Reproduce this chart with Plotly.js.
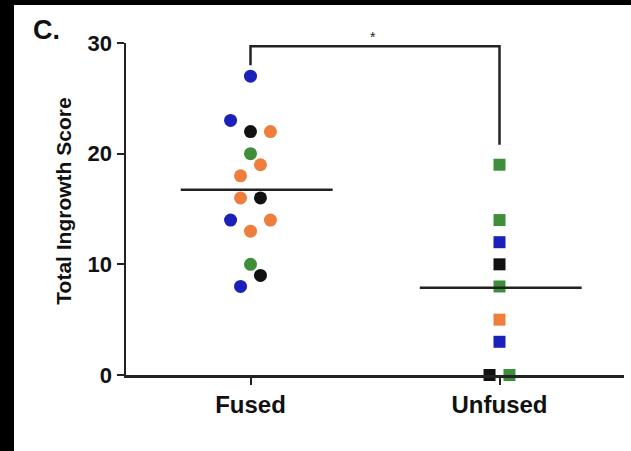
<!DOCTYPE html>
<html>
<head>
<meta charset="utf-8">
<script src="https://cdn.plot.ly/plotly-3.0.1.min.js"></script>
<style>
html,body{margin:0;padding:0;background:#000;width:631px;height:451px;overflow:hidden;}
#chart{position:absolute;left:14px;top:5px;width:617px;height:446px;background:#fff;}
</style>
</head>
<body>
<div id="chart"></div>
<script>
// ---- data ----
const categories = ["Fused", "Unfused"];
const fusedValues = [27, 23, 22, 22, 20, 19, 18, 16, 16, 14, 14, 13, 10, 9, 8];
const fusedColors = ["blue","blue","black","orange","green","orange","orange","orange","black","blue","orange","orange","green","black","blue"];
const unfusedValues = [19, 14, 12, 10, 8, 5, 3, 0, 0];
const unfusedColors = ["green","green","blue","black","green","orange","blue","black","green"];
const yTicks = [0, 10, 20, 30];
const yTitle = "Total Ingrowth Score";
const panelLabel = "C.";
const sigLabel = "*";

// ---- layout helpers (positions / styles) ----
const fusedJitter = [0, -0.08, 0, 0.08, 0, 0.04, -0.04, -0.04, 0.04, -0.08, 0.08, 0, 0, 0.04, -0.04];
const unfusedJitter = [0, 0, 0, 0, 0, 0, 0, -0.04, 0.04];
const palette = {blue:"#1a20b8", orange:"#ef7d3c", green:"#3f8f3a", black:"#111111"};

const mean = a => a.reduce((s,v)=>s+v,0)/a.length;

function groupTraces(vals, cols, jit, catIndex, symbol){
  const out = [];
  Object.keys(palette).forEach(c=>{
    const xs=[], ys=[];
    vals.forEach((v,i)=>{ if(cols[i]===c){ xs.push(catIndex+jit[i]); ys.push(v);} });
    if(xs.length) out.push({
      type:"scatter", mode:"markers", x:xs, y:ys, cliponaxis:false,
      marker:{symbol:symbol, size:symbol==="circle"?13:12, color:palette[c], line:{width:0}},
      hoverinfo:"y", showlegend:false
    });
  });
  return out;
}

const traces = [
  ...groupTraces(fusedValues, fusedColors, fusedJitter, 0, "circle"),
  ...groupTraces(unfusedValues, unfusedColors, unfusedJitter, 1, "square")
];

const fm = mean(fusedValues), um = mean(unfusedValues);
const lineStyle = {color:"#222", width:2.5};
const shapes = [
  {type:"line", xref:"x", yref:"y", x0:-0.28, x1:0.33, y0:fm, y1:fm, line:lineStyle},
  {type:"line", xref:"x", yref:"y", x0:0.68, x1:1.33, y0:um, y1:um, line:lineStyle},
  // significance bracket
  {type:"path", xref:"x", yref:"y", path:"M 0 28 L 0 29.7 L 1 29.7 L 1 20.8", line:{color:"#222", width:2.5}}
];

const annotations = [
  {xref:"paper", yref:"paper", x:-0.19, y:1.04, xanchor:"left", yanchor:"middle", text:panelLabel, showarrow:false,
   font:{family:"Liberation Sans, Arial, sans-serif", size:27, color:"#111", weight:"bold"}},
  {xref:"x", yref:"y", x:0.49, y:29.6, yanchor:"bottom", text:sigLabel, showarrow:false,
   font:{family:"Liberation Sans, Arial, sans-serif", size:14, color:"#222"}},
  {xref:"paper", yref:"paper", x:-0.1245, y:0.525, xanchor:"center", yanchor:"middle", textangle:-90, text:yTitle, showarrow:false,
   font:{family:"Liberation Sans, Arial, sans-serif", size:21, color:"#111", weight:"bold"}}
];

const layout = {
  width:617, height:446,
  margin:{l:112, r:7, t:38, b:76},
  paper_bgcolor:"#fff", plot_bgcolor:"#fff",
  showlegend:false,
  xaxis:{range:[-0.5,1.5], tickvals:[0,1], ticktext:categories, showgrid:false, zeroline:false,
    showline:true, linecolor:"#222", linewidth:2.5, ticks:"outside", ticklen:7, tickwidth:2, tickcolor:"#222",
    tickfont:{family:"Liberation Sans, Arial, sans-serif", size:24, color:"#111", weight:"bold"}, fixedrange:true},
  yaxis:{range:[0,30], tickvals:yTicks, showgrid:false, zeroline:false,
    showline:true, linecolor:"#222", linewidth:2.5, ticks:"outside", ticklen:7, tickwidth:2, tickcolor:"#222",
    tickfont:{family:"Liberation Sans, Arial, sans-serif", size:22, color:"#111", weight:"bold"}, fixedrange:true},
  shapes:shapes, annotations:annotations
};

Plotly.newPlot("chart", traces, layout, {staticPlot:true});
</script>
</body>
</html>
